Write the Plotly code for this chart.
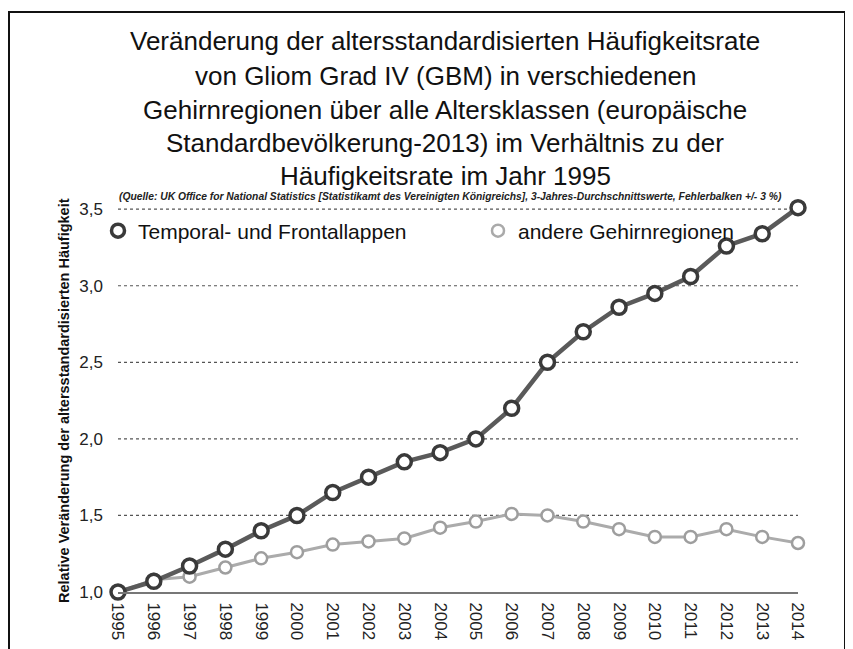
import plotly.graph_objects as go

years = list(range(1995, 2015))
temporal = [1.00, 1.07, 1.17, 1.28, 1.40, 1.50, 1.65, 1.75, 1.85, 1.91, 2.00,
            2.20, 2.50, 2.70, 2.86, 2.95, 3.06, 3.26, 3.34, 3.51]
andere = [1.00, 1.08, 1.10, 1.16, 1.22, 1.26, 1.31, 1.33, 1.35, 1.42, 1.46,
          1.51, 1.50, 1.46, 1.41, 1.36, 1.36, 1.41, 1.36, 1.32]
y_ticks = [1.0, 1.5, 2.0, 2.5, 3.0, 3.5]

title_lines = [
    "Veränderung der altersstandardisierten Häufigkeitsrate",
    "von Gliom Grad IV (GBM) in verschiedenen",
    "Gehirnregionen über alle Altersklassen (europäische",
    "Standardbevölkerung-2013) im Verhältnis zu der",
    "Häufigkeitsrate im Jahr 1995",
]
subtitle = ("(Quelle: UK Office for National Statistics [Statistikamt des Vereinigten Königreichs], "
            "3-Jahres-Durchschnittswerte, Fehlerbalken +/- 3 %)")
ytitle = "Relative Veränderung der altersstandardisierten Häufigkeit"
names = ["Temporal- und Frontallappen", "andere Gehirnregionen"]

W, H = 853, 649
OFF = 8  # page body margin
L, R = 118, 798   # screenshot coords of plot area
T, B = 200, 592
Y_MIN, Y_MAX = 1.0, 3.56

def px(xp):
    return (xp - L) / (R - L)

def py(yp):
    return (B - yp) / (B - T)

FONT = "Liberation Sans, Arial, sans-serif"

fig = go.Figure()
# dotted horizontal gridlines at the y tick values, drawn as background traces
for v in y_ticks[1:]:
    fig.add_trace(go.Scatter(
        x=[years[0], years[-1]], y=[v, v], mode="lines", showlegend=False,
        hoverinfo="skip", cliponaxis=False,
        line=dict(color="#555", width=1.2, dash="dot"),
    ))
fig.add_trace(go.Scatter(
    x=years, y=andere, mode="lines+markers", showlegend=False, cliponaxis=False,
    line=dict(color="#ababab", width=3),
    marker=dict(symbol="circle", size=12, color="white", line=dict(color="#9e9e9e", width=2.5)),
))
fig.add_trace(go.Scatter(
    x=years, y=temporal, mode="lines+markers", showlegend=False, cliponaxis=False,
    line=dict(color="#5a5a5a", width=4.5),
    marker=dict(symbol="circle", size=14, color="white", line=dict(color="#3a3a3a", width=3.5)),
))
fig.add_trace(go.Scatter(
    x=[None], y=[None], mode="markers", name=names[0], legend="legend",
    marker=dict(symbol="circle", size=13, color="white", line=dict(color="#3a3a3a", width=3.5)),
))
fig.add_trace(go.Scatter(
    x=[None], y=[None], mode="markers", name=names[1], legend="legend2",
    marker=dict(symbol="circle", size=12, color="white", line=dict(color="#aaaaaa", width=2.5)),
))

annotations = []
title_y = [41, 76, 110, 143, 176]
for txt, yy in zip(title_lines, title_y):
    annotations.append(dict(
        text=txt, x=px(445), y=py(yy), xref="paper", yref="paper",
        xanchor="center", yanchor="middle", showarrow=False,
        font=dict(family=FONT, size=26, color="#111"),
    ))
annotations.append(dict(
    text="<b><i>" + subtitle + "</i></b>", x=px(450), y=py(196), xref="paper", yref="paper",
    xanchor="center", yanchor="middle", showarrow=False,
    font=dict(family=FONT, size=10.3, color="#222"),
))
annotations.append(dict(
    text="<b>" + ytitle + "</b>", x=px(64), y=py(401), xref="paper", yref="paper",
    xanchor="center", yanchor="middle", showarrow=False, textangle=-90,
    font=dict(family=FONT, size=14.5, color="#111"),
))

legend_common = dict(
    orientation="h", yanchor="middle", xanchor="left",
    bgcolor="rgba(255,255,255,0)", borderwidth=0,
    font=dict(family=FONT, size=21, color="#111"),
)

shapes = [dict(type="rect", xref="paper", yref="paper",
               x0=px(9), x1=px(845), y0=py(670), y1=py(12),
               line=dict(color="#111", width=2), fillcolor="rgba(0,0,0,0)")]

fig.update_layout(
    width=W, height=H,
    margin=dict(l=L - OFF, r=W - (R - OFF), t=T - OFF, b=H - (B - OFF), autoexpand=False),
    paper_bgcolor="white", plot_bgcolor="white",
    separators=",.",
    annotations=annotations,
    legend=dict(x=px(98), y=py(231), **legend_common),
    legend2=dict(x=px(478), y=py(231), **legend_common),
    shapes=shapes,
)
fig.update_xaxes(
    range=[1995, 2014], tickvals=years, ticktext=[str(y) for y in years],
    tickangle=90, showgrid=False, zeroline=False,
    showline=True, linecolor="#777", linewidth=2,
    ticks="", ticklabelstandoff=5,
    tickfont=dict(family=FONT, size=17, color="#222"),
)
fig.update_yaxes(
    range=[Y_MIN, Y_MAX], tickvals=y_ticks, tickformat=".1f",
    showgrid=False, zeroline=False, showline=False, ticks="", ticklabelstandoff=14,
    tickfont=dict(family=FONT, size=17, color="#222"),
)

fig.write_html("out.html")
